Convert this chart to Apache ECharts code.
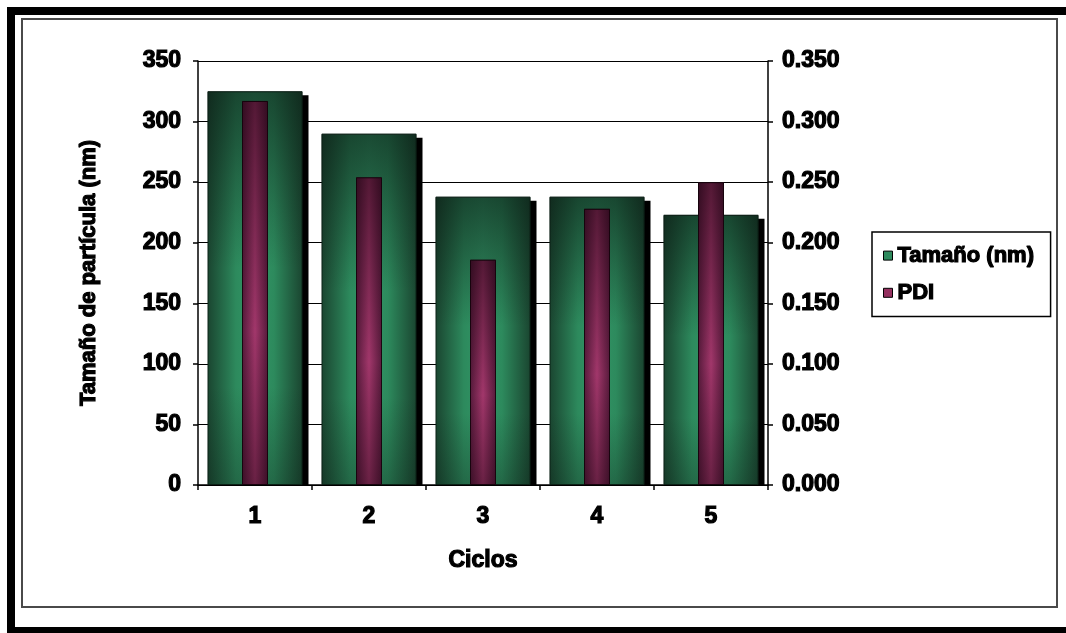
<!DOCTYPE html>
<html>
<head>
<meta charset="utf-8">
<script src="https://cdn.jsdelivr.net/npm/echarts@6/dist/echarts.min.js"></script>
<style>
  html, body { margin: 0; padding: 0; background: #fff; }
  #chart { width: 1066px; height: 633px; }
</style>
</head>
<body>
<div id="chart"></div>
<script>
// Ciclos de procesado: tamaño medio de partícula y PDI
const categories = ['1', '2', '3', '4', '5'];
const tamano = [325, 290, 238, 238, 223];          // nm
const pdi = [0.317, 0.254, 0.186, 0.228, 0.250];   // índice de polidispersidad

const sizeAxis = { min: 0, max: 350, interval: 50 };
const pdiAxis = { min: 0, max: 0.35, interval: 0.05 };

const FONT = 'Liberation Sans, Arial, sans-serif';
const txt = (size) => ({
  fontFamily: FONT, fontWeight: 'bold', fontSize: size, color: '#000',
  textBorderColor: '#000', textBorderWidth: 1.2
});

// Plot box in pixels and the drop shadow offset of the size bars
const plot = { left: 198, right: 298, top: 61, bottom: 148 };
const shadow = { dx: 6, dy: 4 };
const plotHeight = 633 - plot.top - plot.bottom;
// the shadow grid is shifted down by dy, so its value range starts a little above 0
const shadowMin = sizeAxis.max * shadow.dy / plotHeight;

const greenFill = {
  type: 'linear', x: 0, y: 0, x2: 1, y2: 0,
  colorStops: [
    { offset: 0, color: '#1a4530' },
    { offset: 0.3, color: '#2d8a5d' },
    { offset: 0.5, color: '#329566' },
    { offset: 0.7, color: '#2d8a5d' },
    { offset: 1, color: '#1a4530' }
  ]
};
const greenShade = {
  type: 'linear', x: 0, y: 0, x2: 0, y2: 1,
  colorStops: [
    { offset: 0, color: 'rgba(10,25,18,0.6)' },
    { offset: 0.45, color: 'rgba(10,25,18,0)' },
    { offset: 0.75, color: 'rgba(10,25,18,0)' },
    { offset: 1, color: 'rgba(10,25,18,0.3)' }
  ]
};
const plumFill = {
  type: 'linear', x: 0, y: 0, x2: 1, y2: 0,
  colorStops: [
    { offset: 0, color: '#561a3b' },
    { offset: 0.5, color: '#a2376b' },
    { offset: 1, color: '#561a3b' }
  ]
};
const plumShade = {
  type: 'linear', x: 0, y: 0, x2: 0, y2: 1,
  colorStops: [
    { offset: 0, color: 'rgba(20,0,10,0.55)' },
    { offset: 0.6, color: 'rgba(20,0,10,0)' },
    { offset: 1, color: 'rgba(20,0,10,0.4)' }
  ]
};

const chart = echarts.init(document.getElementById('chart'), null, { renderer: 'canvas' });

chart.setOption({
  backgroundColor: '#fff',
  animation: false,
  graphic: [
    { type: 'rect', z: -10, silent: true,
      shape: { x: 11, y: 11, width: 1070, height: 620 },
      style: { fill: 'none', stroke: '#000', lineWidth: 8 } },
    { type: 'rect', z: -10, silent: true,
      shape: { x: 22, y: 19, width: 1035, height: 588 },
      style: { fill: 'none', stroke: '#4a4a4a', lineWidth: 2 } }
  ],
  grid: [
    { left: plot.left, right: plot.right, top: plot.top, bottom: plot.bottom },
    { left: plot.left + shadow.dx, right: plot.right - shadow.dx,
      top: plot.top + shadow.dy, bottom: plot.bottom }
  ],
  legend: {
    orient: 'vertical', left: 872, top: 232,
    padding: [12, 16, 12, 11], itemGap: 14,
    itemWidth: 9, itemHeight: 9,
    borderColor: '#000', borderWidth: 1.5,
    textStyle: txt(22),
    selectedMode: false,
    data: [
      { name: 'Tamaño (nm)', icon: 'rect', itemStyle: { color: '#2e8a5d', borderColor: '#000', borderWidth: 1 } },
      { name: 'PDI', icon: 'rect', itemStyle: { color: '#94305f', borderColor: '#000', borderWidth: 1 } }
    ]
  },
  xAxis: [
    { type: 'category', gridIndex: 0, data: categories,
      name: 'Ciclos', nameLocation: 'middle', nameGap: 64, nameTextStyle: txt(23),
      axisLine: { lineStyle: { color: '#000', width: 1.5 } },
      axisTick: { show: true, length: 5, lineStyle: { color: '#000', width: 1.5 } },
      axisLabel: { margin: 20, ...txt(23) } },
    { type: 'category', gridIndex: 0, data: categories, show: false },
    { type: 'category', gridIndex: 1, data: categories, show: false }
  ],
  yAxis: [
    { type: 'value', gridIndex: 0, position: 'left', ...sizeAxis,
      name: 'Tamaño de partícula (nm)', nameLocation: 'middle', nameGap: 98,
      nameRotate: 90, nameTextStyle: txt(22),
      axisLine: { show: true, lineStyle: { color: '#000', width: 1.5 } },
      axisTick: { show: true, length: 5, lineStyle: { color: '#000', width: 1.5 } },
      splitLine: { show: true, lineStyle: { color: '#000', width: 1.2 } },
      axisLabel: { margin: 17, ...txt(23) } },
    { type: 'value', gridIndex: 0, position: 'right', ...pdiAxis,
      axisLine: { show: true, lineStyle: { color: '#000', width: 1.5 } },
      axisTick: { show: true, length: 5, lineStyle: { color: '#000', width: 1.5 } },
      splitLine: { show: false },
      axisLabel: { margin: 14, ...txt(23), formatter: (v) => v.toFixed(3) } },
    { type: 'value', gridIndex: 1, min: shadowMin, max: sizeAxis.max, show: false,
      splitLine: { show: false } }
  ],
  series: [
    { type: 'bar', name: 'sombra', xAxisIndex: 2, yAxisIndex: 2, data: tamano,
      barWidth: 95, clip: true, silent: true,
      itemStyle: { color: '#000' } },
    { type: 'bar', name: 'Tamaño (nm)', xAxisIndex: 0, yAxisIndex: 0, data: tamano,
      barWidth: 95, barGap: '-100%', silent: true,
      itemStyle: { color: greenFill, borderColor: '#0c2418', borderWidth: 1 } },
    { type: 'bar', name: 'sombreado tamaño', xAxisIndex: 0, yAxisIndex: 0, data: tamano,
      barWidth: 95, barGap: '-100%', silent: true,
      itemStyle: { color: greenShade } },
    { type: 'bar', name: 'PDI', xAxisIndex: 1, yAxisIndex: 1, data: pdi,
      barWidth: 26, barGap: '-100%', silent: true,
      itemStyle: { color: plumFill, borderColor: '#1a0610', borderWidth: 1 } },
    { type: 'bar', name: 'sombreado PDI', xAxisIndex: 1, yAxisIndex: 1, data: pdi,
      barWidth: 26, barGap: '-100%', silent: true,
      itemStyle: { color: plumShade } }
  ]
});
</script>
</body>
</html>
